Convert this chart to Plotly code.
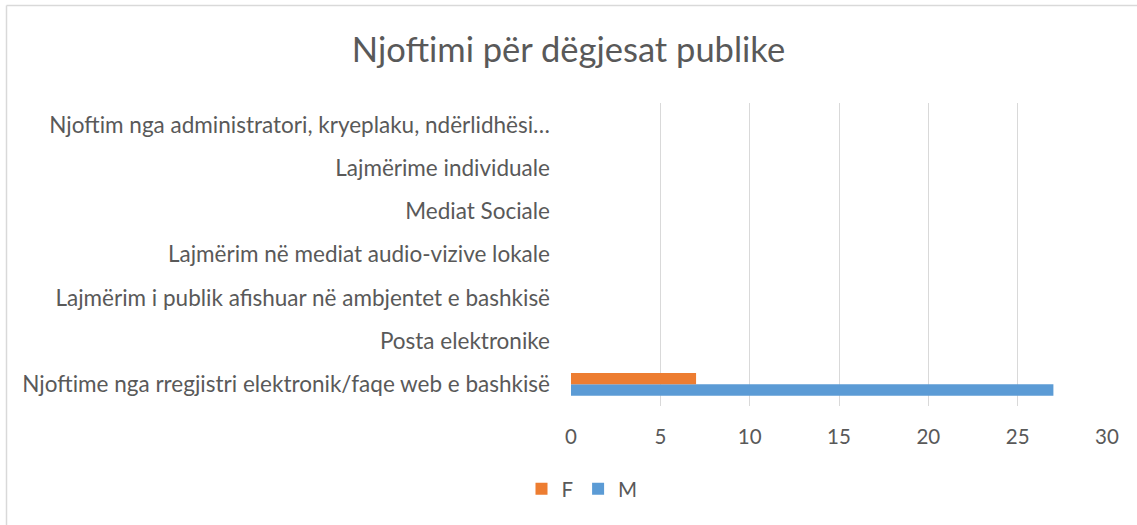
import plotly.graph_objects as go

categories = [
    "Njoftime nga rregjistri elektronik/faqe web e bashkisë",
    "Posta elektronike",
    "Lajmërim i publik afishuar në ambjentet e bashkisë",
    "Lajmërim në mediat audio-vizive lokale",
    "Mediat Sociale",
    "Lajmërime individuale",
    "Njoftim nga administratori, kryeplaku, ndërlidhësi…",
]
values_M = [27, 0, 0, 0, 0, 0, 0]
values_F = [7, 0, 0, 0, 0, 0, 0]
x_ticks = [0, 5, 10, 15, 20, 25, 30]

FONT = "Lato"
TXT = "#595959"

fig = go.Figure()
fig.add_trace(go.Bar(y=categories, x=values_M, name="M", orientation="h",
                     marker=dict(color="#5B9BD5", line_width=0)))
fig.add_trace(go.Bar(y=categories, x=values_F, name="F", orientation="h",
                     marker=dict(color="#ED7D31", line_width=0)))

L, R, T, B = 571, 30, 103, 119
W, H = 1137, 525
pw = W - L - R
ph = H - T - B

fig.update_layout(
    width=W, height=H,
    margin=dict(l=L, r=R, t=T, b=B),
    paper_bgcolor="white", plot_bgcolor="white",
    barmode="group", bargap=0.47, bargroupgap=0,
    title=dict(text="Njoftimi për dëgjesat publike", x=0.5, xanchor="center",
               y=1 - 50 / H, yanchor="middle",
               font=dict(family=FONT, size=34.5, color=TXT)),
    xaxis=dict(range=[0, 30], tickvals=x_ticks, showgrid=True, gridcolor="#D9D9D9",
               gridwidth=1, zeroline=False, showline=False, ticks="",
               tickfont=dict(family=FONT, size=20.5, color=TXT), ticklabelstandoff=16),
    yaxis=dict(showgrid=False, zeroline=False, showline=False, ticks="",
               tickfont=dict(family=FONT, size=22.5, color=TXT), ticklabelstandoff=20),
    legend=dict(orientation="h", x=(582 - L) / pw, xanchor="center",
                y=-(489 - T - ph) / ph,
                yanchor="middle", traceorder="reversed",
                font=dict(family=FONT, size=20.5, color=TXT),
                itemwidth=30, tracegroupgap=0),
    showlegend=True,
)

# outer chart border (left and top edges visible)
yt = 1 + (T - 5.5) / ph
xl = (6.5 - L) / pw
fig.add_shape(type="line", xref="paper", yref="paper",
              x0=xl, x1=(W - L) / pw, y0=yt, y1=yt,
              line=dict(color="#D9D9D9", width=1.5))
fig.add_shape(type="line", xref="paper", yref="paper",
              x0=xl, x1=xl, y0=-B / ph, y1=yt,
              line=dict(color="#D9D9D9", width=1.5))

fig.write_html("out.html", config={"displayModeBar": False},
               post_script="document.body.style.margin='0';document.body.style.overflow='hidden';")
